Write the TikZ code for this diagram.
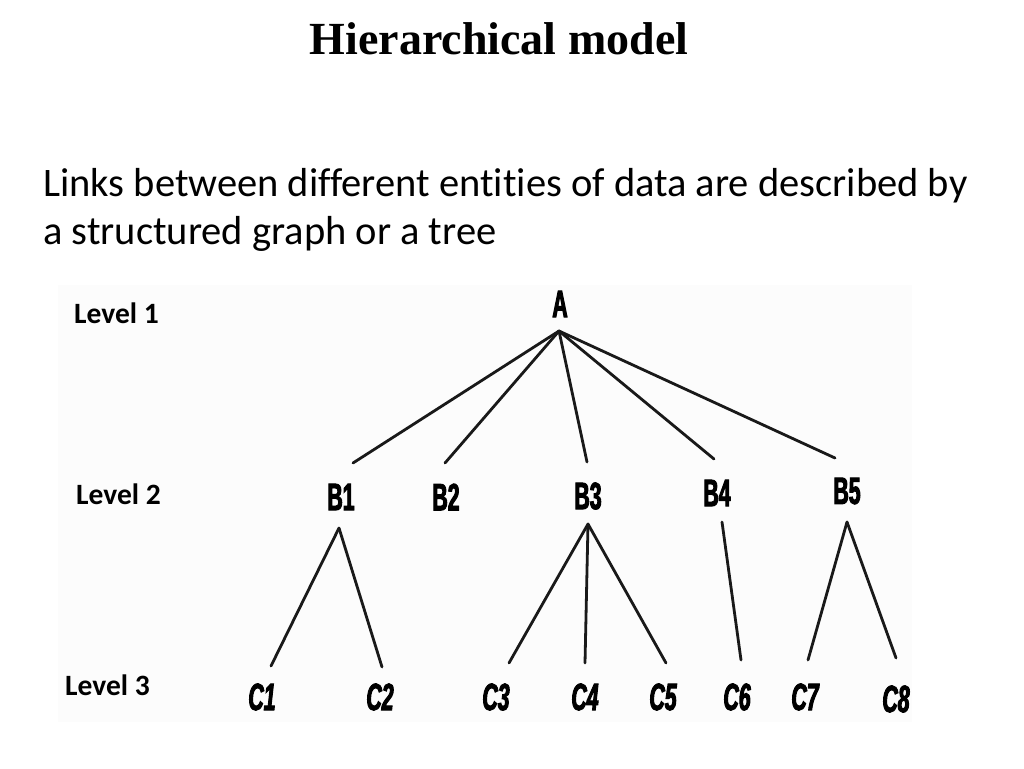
\documentclass[tikz,border=0pt]{standalone}
\usepackage{fontspec}
\setmainfont{Liberation Serif}
\newfontfamily\bodyfont[Ligatures=NoCommon]{Carlito}
\newfontfamily\treefont[FakeStretch=0.56,FakeBold=2.5]{Liberation Sans}
\begin{document}
\begin{tikzpicture}[x=1pt,y=-1pt,
  link/.style={line width=2.8pt,black!90,line cap=round},
  lvl/.style={anchor=base west,inner sep=0pt,font=\bodyfont\bfseries\fontsize{29.5}{31}\selectfont},
  bnode/.style={inner sep=0pt,font=\treefont\bfseries\fontsize{38}{40}\selectfont},
  cnode/.style={inner sep=0pt,font=\treefont\bfseries\itshape\fontsize{38}{40}\selectfont}]
\useasboundingbox (0,0) rectangle (1024,768);
\fill[white] (0,0) rectangle (1024,768);
\fill[black!1] (58,285) rectangle (912,722);
% title and text
\node[anchor=base,inner sep=0pt,font=\bfseries\fontsize{46}{50}\selectfont] (title) at (499,55) {Hierarchical model};
\node[anchor=base west,inner sep=0pt,font=\bodyfont\fontsize{40.5}{48}\selectfont] (line1) at (43,196) {Links between different entities of data are described by};
\node[anchor=base west,inner sep=0pt,font=\bodyfont\fontsize{40.5}{48}\selectfont] (line2) at (43,244) {a structured graph or a tree};
% level labels
\node[lvl] (L1) at (74,323) {Level 1};
\node[lvl] (L2) at (76,504) {Level 2};
\node[lvl] (L3) at (65,695) {Level 3};
% tree nodes
\node[bnode] (A) at (560,304) {A};
\node[bnode] (B1) at (341,497) {B1};
\node[bnode] (B2) at (446,497) {B2};
\node[bnode] (B3) at (588,496) {B3};
\node[bnode] (B4) at (717,493) {B4};
\node[bnode] (B5) at (847,491) {B5};
\node[cnode] (C1) at (262,697) {C1};
\node[cnode] (C2) at (380,697) {C2};
\node[cnode] (C3) at (496,697) {C3};
\node[cnode] (C4) at (585,697) {C4};
\node[cnode] (C5) at (663,697) {C5};
\node[cnode] (C6) at (737,697) {C6};
\node[cnode] (C7) at (805,697) {C7};
\node[cnode] (C8) at (896,699) {C8};
% connector end points
\coordinate (A-f) at (559,331);
\coordinate (B1-h) at (353,463);
\coordinate (B2-h) at (445,463);
\coordinate (B3-h) at (587,462);
\coordinate (B4-h) at (714,459);
\coordinate (B5-h) at (835,458);
\coordinate (B1-f) at (339,528);
\coordinate (B3-f) at (588,524);
\coordinate (B4-f) at (722,522);
\coordinate (B5-f) at (847,522);
\coordinate (C1-h) at (271,666);
\coordinate (C2-h) at (382,667);
\coordinate (C3-h) at (509,663);
\coordinate (C4-h) at (585,663);
\coordinate (C5-h) at (666,663);
\coordinate (C6-h) at (741,660);
\coordinate (C7-h) at (808,660);
\coordinate (C8-h) at (896,658);
% links
\foreach \b in {B1,B2,B3,B4,B5} \draw[link] (A-f) -- (\b-h);
\draw[link] (B1-f) -- (C1-h);
\draw[link] (B1-f) -- (C2-h);
\draw[link] (B3-f) -- (C3-h);
\draw[link] (B3-f) -- (C4-h);
\draw[link] (B3-f) -- (C5-h);
\draw[link] (B4-f) -- (C6-h);
\draw[link] (B5-f) -- (C7-h);
\draw[link] (B5-f) -- (C8-h);
\end{tikzpicture}
\end{document}
